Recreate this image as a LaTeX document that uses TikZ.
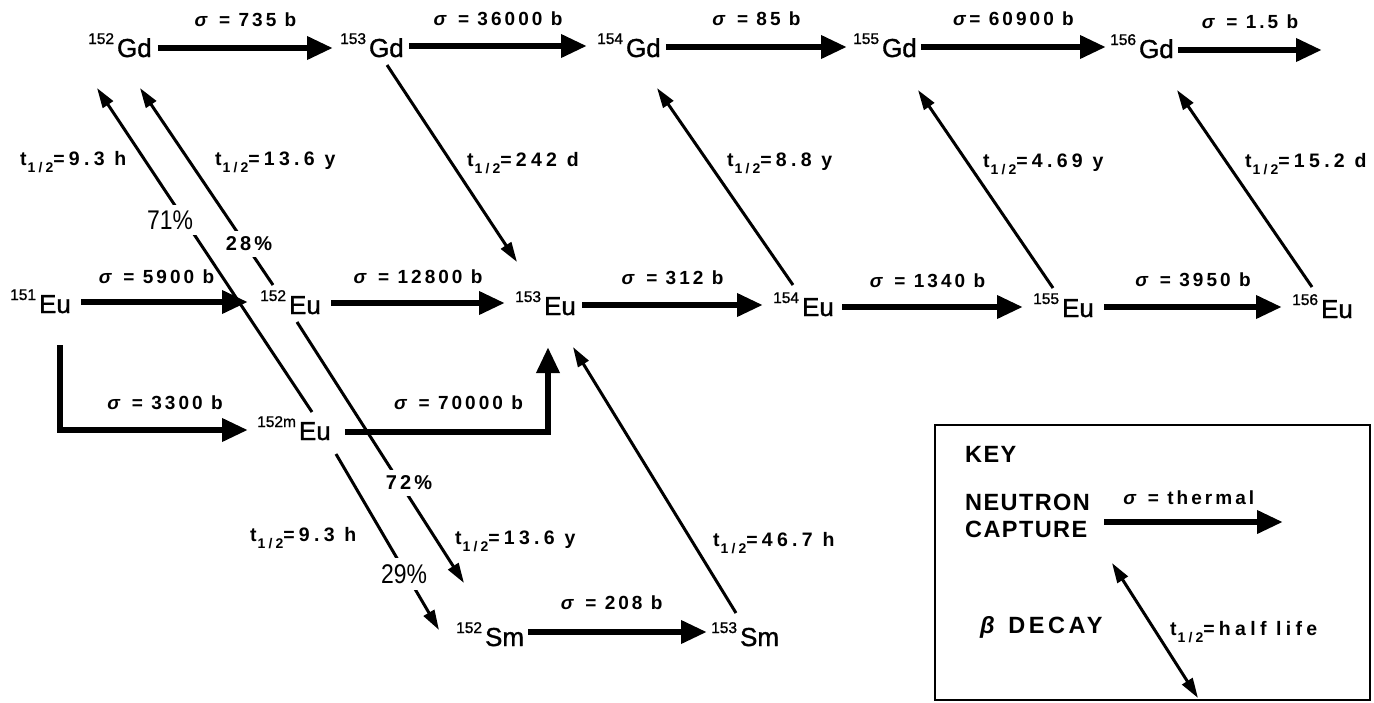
\documentclass[tikz,border=0pt]{standalone}
\usepackage{fontspec}
\setmainfont{Liberation Sans}
\newfontfamily\isofont[FakeBold=1.2]{Liberation Sans}
\newfontfamily\labfont[LetterSpace=16]{Liberation Sans}
\newfontfamily\tfont[LetterSpace=22]{Liberation Sans}
\newfontfamily\keyfam[LetterSpace=6]{Liberation Sans}
\newfontfamily\betafam[LetterSpace=15]{Liberation Sans}
\usetikzlibrary{arrows.meta,calc}
\newcommand{\iso}[2]{{\fontsize{15.5}{15.5}\selectfont\raisebox{13pt}{#1}}\kern3pt #2}
\newcommand{\thalf}{t\kern1pt\raisebox{-7pt}{\fontsize{14}{14}\selectfont 1/2}}
\newcommand{\sig}{\textit{σ}}
\newcommand{\condpct}[1]{\scalebox{0.85}[1]{#1}}
\tikzset{
  isonode/.style={inner sep=0pt, anchor=base west, font=\isofont\fontsize{26}{26}\selectfont},
  lbl/.style={inner sep=0pt, font=\labfont\bfseries\fontsize{19}{19}\selectfont},
  tlbl/.style={inner sep=0pt, anchor=base west, font=\tfont\bfseries\fontsize{19.5}{19.5}\selectfont},
  keyfont/.style={inner sep=0pt, anchor=base west, font=\keyfam\bfseries\fontsize{23.5}{23.5}\selectfont},
  betafont/.style={inner sep=0pt, anchor=base west, font=\betafam\bfseries\fontsize{23.5}{23.5}\selectfont},
  pctb/.style={fill=white, inner sep=6pt, font=\labfont\bfseries\fontsize{20}{20}\selectfont},
  pctr/.style={fill=white, inner sep=6pt, font=\fontsize{27}{27}\selectfont},
  ncap/.style={line width=6.5pt, -{Triangle[length=26pt,width=22pt]}},
  decay/.style={line width=3pt, -{Triangle[length=20pt,width=12pt]}},
}
\begin{document}
\begin{tikzpicture}[x=1pt,y=-1pt]
\useasboundingbox (0,0) rectangle (1374,702);
% isotopes
\node[isonode] (gd152) at (88,57) {\iso{152}{Gd}};
\node[isonode] (gd153) at (340,57) {\iso{153}{Gd}};
\node[isonode] (gd154) at (597,57) {\iso{154}{Gd}};
\node[isonode] (gd155) at (853,57) {\iso{155}{Gd}};
\node[isonode] (gd156) at (1110,58) {\iso{156}{Gd}};
\node[isonode] (eu151) at (10,313) {\iso{151}{Eu}};
\node[isonode] (eu152) at (260,314) {\iso{152}{Eu}};
\node[isonode] (eu153) at (515,315) {\iso{153}{Eu}};
\node[isonode] (eu154) at (773,316) {\iso{154}{Eu}};
\node[isonode] (eu155) at (1033,317) {\iso{155}{Eu}};
\node[isonode] (eu156) at (1292,318) {\iso{156}{Eu}};
\node[isonode] (eu152m) at (257,440) {\iso{152m}{Eu}};
\node[isonode] (sm152) at (456,646) {\iso{152}{Sm}};
\node[isonode] (sm153) at (711,646) {\iso{153}{Sm}};
\coordinate (gdend) at (1322,50);
% neutron capture
\draw[ncap] ($(gd152.base east)+(6,-9)$) -- node[lbl,above=18pt]{\sig{} = 735 b} ($(gd153.base west)+(-7,-9)$);
\draw[ncap] ($(gd153.base east)+(5,-11)$) -- node[lbl,above=17pt]{\sig{} = 36000 b} ($(gd154.base west)+(-10,-11)$);
\draw[ncap] ($(gd154.base east)+(5,-10)$) -- node[lbl,above=18pt]{\sig{} = 85 b} ($(gd155.base west)+(-6,-10)$);
\draw[ncap] ($(gd155.base east)+(4,-10)$) -- node[lbl,above=18pt]{\sig{}= 60900 b} ($(gd156.base west)+(-4,-11)$);
\draw[ncap] ($(gd156.base east)+(4,-8)$) -- node[lbl,above=18pt]{\sig{} = 1.5 b} (gdend);
\draw[ncap] ($(eu151.base east)+(10,-11)$) -- node[lbl,above=15pt,xshift=-8pt]{\sig{} = 5900 b} ($(eu152.base west)+(-12,-12)$);
\draw[ncap] ($(eu152.base east)+(10,-11)$) -- node[lbl,above=16pt]{\sig{} = 12800 b} ($(eu153.base west)+(-10,-12)$);
\draw[ncap] ($(eu153.base east)+(6,-10)$) -- node[lbl,above=17pt]{\sig{} = 312 b} ($(eu154.base west)+(-10,-11)$);
\draw[ncap] ($(eu154.base east)+(8,-9)$) -- node[lbl,above=16pt,xshift=-5pt]{\sig{} = 1340 b} ($(eu155.base west)+(-10,-10)$);
\draw[ncap] ($(eu155.base east)+(10,-10)$) -- node[lbl,above=17pt]{\sig{} = 3950 b} ($(eu156.base west)+(-10,-11)$);
\draw[ncap] ($(eu151.base west)+(50,32)$) |- node[lbl,above=17pt,pos=0.75,xshift=11pt]{\sig{} = 3300 b} ($(eu152m.base west)+(-9,-10)$);
\draw[ncap] ($(eu152m.base east)+(14,-8)$) -| node[lbl,above=19pt,pos=0.25,xshift=12pt]{\sig{} = 70000 b} ($(eu153.base west)+(33,32)$);
\draw[ncap] ($(sm152.base east)+(4,-14)$) -- node[lbl,above=19pt,xshift=-6pt]{\sig{} = 208 b} ($(sm153.base west)+(-4,-14)$);
% beta decay
\draw[decay] ($(gd153.base west)+(47,8)$) -- ($(eu153.base west)+(2,-53)$);
\draw[decay] ($(eu154.base west)+(20,-31)$) -- ($(gd154.base west)+(60,31)$);
\draw[decay] ($(eu155.base west)+(20,-29)$) -- ($(gd155.base west)+(65,33)$);
\draw[decay] ($(eu156.base west)+(20,-31)$) -- ($(gd156.base west)+(67,32)$);
\draw[decay] ($(eu152.base west)+(13,-29)$) -- ($(gd152.base west)+(52,31)$);
\draw[decay] ($(eu152m.base west)+(55,-28)$) -- ($(gd152.base west)+(9,31)$);
\draw[decay] ($(eu152.base west)+(37,8)$) -- ($(sm152.base west)+(8,-63)$);
\draw[decay] ($(eu152m.base west)+(79,14)$) -- ($(sm152.base west)+(-17,-16)$);
\draw[decay] ($(sm153.base west)+(25,-33)$) -- ($(eu153.base west)+(58,32)$);
% branching percentages
\node[pctr] (p71) at (170,220) {\condpct{71\%}};
\node[pctb] (p28) at (249,244) {28\%};
\node[pctb] (p72) at (409,483) {72\%};
\node[pctr] (p29) at (404,574) {\condpct{29\%}};
% half lives
\node[tlbl] (t1) at (20,165) {\thalf=9.3 h};
\node[tlbl] (t2) at (215,165) {\thalf=13.6 y};
\node[tlbl] (t3) at (467,166) {\thalf=242 d};
\node[tlbl] (t4) at (727,166) {\thalf=8.8 y};
\node[tlbl] (t5) at (983,167) {\thalf=4.69 y};
\node[tlbl] (t6) at (1245,167) {\thalf=15.2 d};
\node[tlbl] (t7) at (250,541) {\thalf=9.3 h};
\node[tlbl] (t8) at (455,544) {\thalf=13.6 y};
\node[tlbl] (t9) at (713,546) {\thalf=46.7 h};
% key
\node[draw, line width=2.4pt, minimum width=435pt, minimum height=275pt, inner sep=0pt] (keybox) at (1152.5,562.5) {};
\node[keyfont] (key) at (965,462) {KEY};
\node[keyfont] (neutron) at (965,510) {NEUTRON};
\node[keyfont] (capture) at (965,537) {CAPTURE};
\coordinate (keyend) at (1283,522);
\draw[ncap] ($(capture.base east)+(17,-15)$) -- node[lbl,above=14pt,xshift=-5pt]{\sig{} = thermal} (keyend);
\node[betafont] (beta) at (980,633) {\textit{β} DECAY};
\coordinate (kdA) at (1112,563);
\coordinate (kdB) at (1198,698);
\draw[decay, {Triangle[length=20pt,width=12pt]}-{Triangle[length=20pt,width=12pt]}] (kdA) -- (kdB);
\node[tlbl] (tkey) at (1170,635) {\thalf=half life};
\end{tikzpicture}
\end{document}
